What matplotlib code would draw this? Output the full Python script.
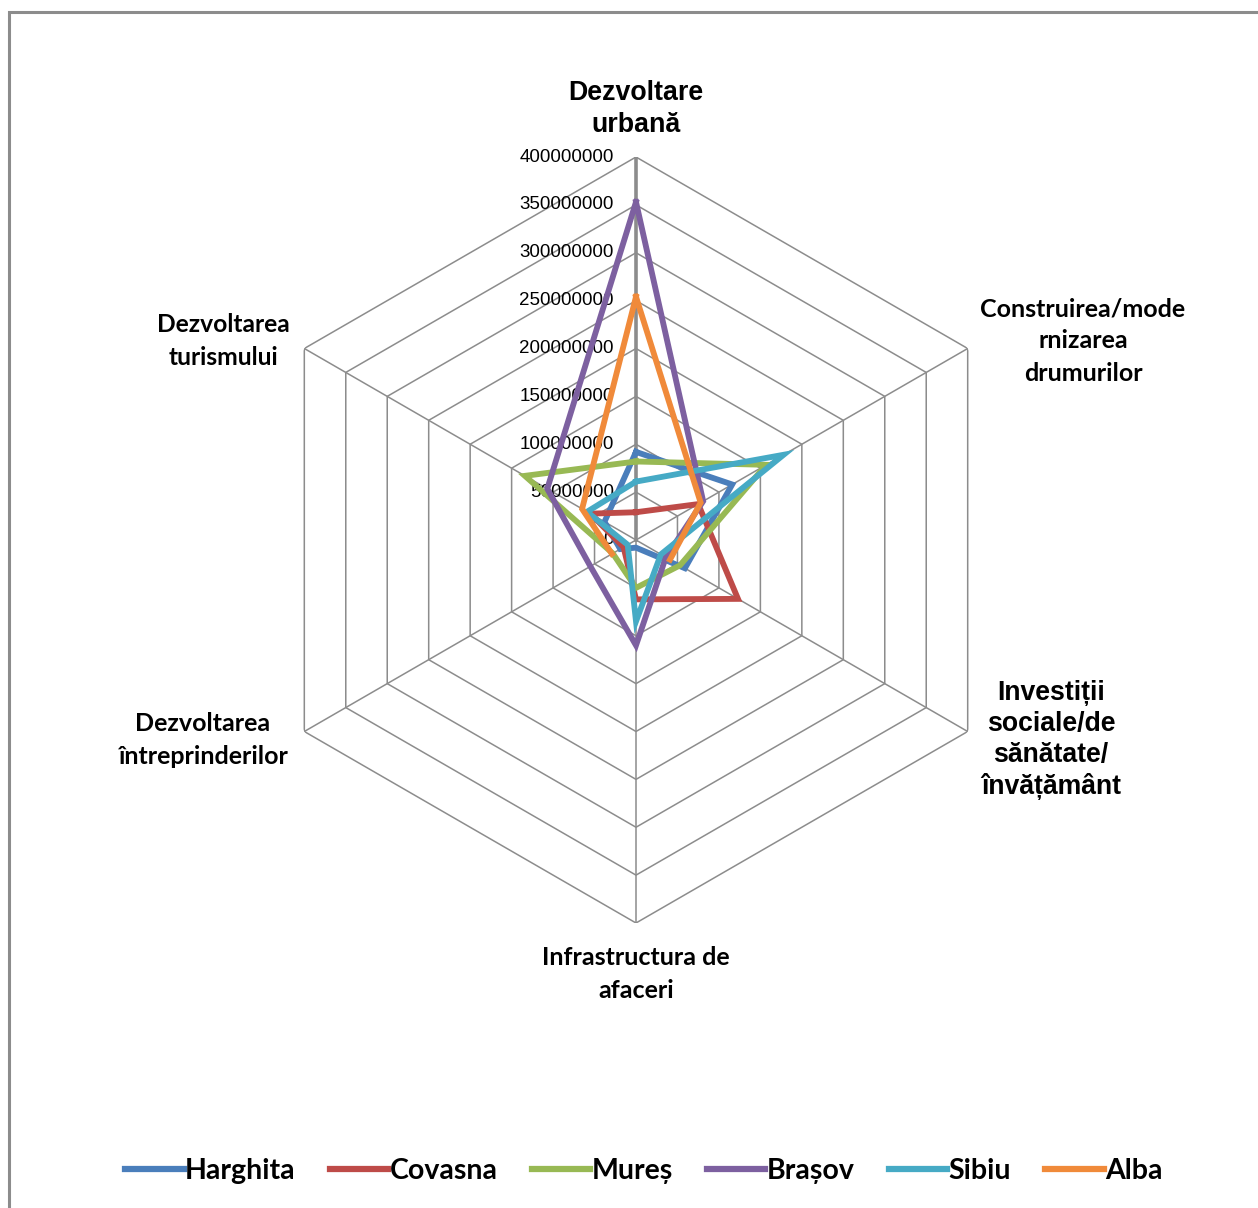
import numpy as np
import matplotlib
matplotlib.use("Agg")
import matplotlib.pyplot as plt
from matplotlib.patches import Rectangle
from matplotlib.lines import Line2D

W, H = 1258, 1208

categories = [
    "Dezvoltare\nurbană",
    "Construirea/mode\nrnizarea\ndrumurilor",
    "Investiții\nsociale/de\nsănătate/\nînvățământ",
    "Infrastructura de\nafaceri",
    "Dezvoltarea\nîntreprinderilor",
    "Dezvoltarea\nturismului",
]
judete = ["Harghita", "Covasna", "Mureș", "Brașov", "Sibiu", "Alba"]
harghita = [92e6, 116e6, 59e6, 8e6, 19e6, 38e6]
covasna = [29e6, 75e6, 123e6, 62e6, 15e6, 55e6]
mures = [82e6, 157e6, 53e6, 50e6, 28e6, 134e6]
brasov = [353e6, 81e6, 36e6, 110e6, 55e6, 107e6]
sibiu = [61e6, 178e6, 30e6, 85e6, 10e6, 59e6]
alba = [254e6, 78e6, 41e6, np.nan, 29e6, 65e6]  # lipsa valoare -> linie intrerupta
ticks = [0, 50e6, 100e6, 150e6, 200e6, 250e6, 300e6, 350e6, 400e6]

serii = [harghita, covasna, mures, brasov, sibiu, alba]
culori = ["#4A7EBB", "#BE4B48", "#98B954", "#7D60A0", "#46AAC5", "#F08A3A"]

fig = plt.figure(figsize=(W / 100, H / 100), dpi=100)
fig.patches.append(Rectangle((9 / W, -0.01), 1.1, 1 - 12 / H + 0.01, transform=fig.transFigure,
                             fill=False, edgecolor="#8c8c8c", linewidth=2.2))

cx, cy, R = 636, 540, 383
ax = fig.add_axes([(cx - R) / W, 1 - (cy + R) / H, 2 * R / W, 2 * R / H], projection="polar")
ax.set_theta_offset(np.pi / 2)
ax.set_theta_direction(-1)
ax.set_ylim(0, ticks[-1])
ax.grid(False)
ax.spines["polar"].set_visible(False)
ax.set_xticks([])
ax.set_yticks([])
ax.patch.set_alpha(0)

n = len(categories)
theta = np.arange(n) * 2 * np.pi / n
theta_c = np.append(theta, theta[0])

# grila hexagonala
for t in ticks[1:]:
    ax.plot(theta_c, [t] * (n + 1), color="#8c8c8c", lw=1.1, zorder=1)
for i, th in enumerate(theta):
    ax.plot([th, th], [0, ticks[-1]], color="#8c8c8c", lw=2.6 if i == 0 else 1.1, zorder=1)

for vals, c in zip(serii, culori):
    v = np.append(vals, vals[0])
    ax.plot(theta_c, v, color=c, lw=4.2, zorder=3, solid_joinstyle="miter")

# etichete axa radiala
for t in ticks:
    ax.annotate(f"{int(t)}", xy=(0, t), xytext=(-16, 0), textcoords="offset points",
                ha="right", va="center", fontsize=13.5, family="Liberation Sans", zorder=2)

# etichete categorii
font_cal = ["Lato", "DejaVu Sans"]
font_ar = ["Liberation Sans", "DejaVu Sans"]
pos = [(636, 109), (1083, 341), (1051, 740), (636, 974), (203, 740), (223, 341)]
fonturi = [font_ar, font_cal, font_ar, font_cal, font_cal, font_cal]
marimi = [19.3, 18, 19.2, 18, 18, 17.7]
spatiere = [1.27, 1.48, 1.25, 1.48, 1.48, 1.5]
for lab, (x, y), f, s, ls in zip(categories, pos, fonturi, marimi, spatiere):
    fig.text(x / W, 1 - y / H, lab, ha="center", va="center", fontsize=s, family=f,
             fontweight="bold", linespacing=ls)

handles = [Line2D([], [], color=c, lw=4.5) for c in culori]
leg = fig.legend(handles, judete, loc="center", bbox_to_anchor=(644 / W, 1 - 1171 / H),
                 ncol=6, frameon=False, handlelength=2.05, handletextpad=0.05, columnspacing=1.2,
                 prop={"family": font_cal, "weight": "bold", "size": 20.5})

fig.savefig("out.png", dpi=100)
